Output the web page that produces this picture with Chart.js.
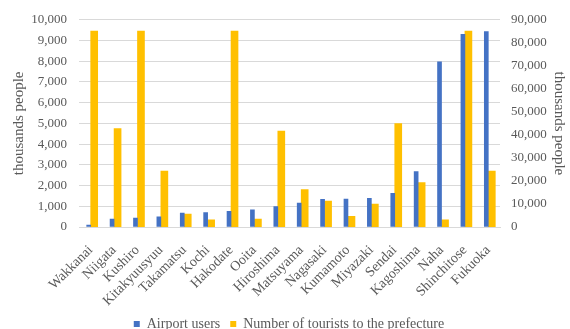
<!DOCTYPE html>
<html>
<head>
<meta charset="utf-8">
<script src="https://cdn.jsdelivr.net/npm/chart.js@4/dist/chart.umd.min.js"></script>
<style>
  html, body { margin: 0; padding: 0; background: #fff; }
  #wrap { width: 570px; height: 329px; }
</style>
</head>
<body>
<div id="wrap"><canvas id="c" width="570" height="329"></canvas></div>
<script>
const airports = ["Wakkanai", "Niigata", "Kushiro", "Kitakyuusyuu", "Takamatsu", "Kochi", "Hakodate", "Ooita",
  "Hiroshima", "Matsuyama", "Nagasaki", "Kumamoto", "Miyazaki", "Sendai", "Kagoshima", "Naha", "Shinchitose", "Fukuoka"];
const airportUsers = [90, 380, 430, 490, 670, 700, 760, 830, 980, 1150, 1330, 1350, 1380, 1630, 2670, 7970, 9300, 9430];
const tourists = [85100, 42700, 85100, 24300, 5600, 3100, 85100, 3400, 41700, 16300, 11300, 4600, 10000, 44900, 19300, 3100, 85100, 24300];
const leftTicks = [0, 10000];
const rightTicks = [0, 90000];

const serif = "'Liberation Serif', 'Times New Roman', serif";
const grey = "#595959";

new Chart(document.getElementById("c"), {
  type: "bar",
  data: {
    labels: airports,
    datasets: [
      { label: "Airport users", data: airportUsers, backgroundColor: "#4472C4", yAxisID: "y", barThickness: 4 },
      { label: "Number of tourists to the prefecture", data: tourists, backgroundColor: "#FFC000", yAxisID: "y1", barThickness: 7 }
    ]
  },
  options: {
    responsive: false,
    animation: false,
    layout: { padding: { top: 6, left: 10, right: 2, bottom: -12 } },
    plugins: {
      legend: {
        position: "bottom",
        labels: { font: { family: serif, size: 14 }, color: grey, boxWidth: 6, boxHeight: 6, padding: 10 }
      },
      tooltip: { enabled: false }
    },
    scales: {
      x: {
        grid: { display: false },
        border: { color: "#d9d9d9" },
        ticks: { font: { family: serif, size: 14 }, color: grey, maxRotation: 45, minRotation: 45, autoSkip: false, padding: 7 },
        afterFit: s => { s.height = 80; }
      },
      y: {
        position: "left",
        min: leftTicks[0], max: leftTicks[1],
        ticks: { stepSize: 1000, font: { family: serif, size: 13 }, color: grey, padding: 12,
          callback: v => v.toLocaleString("en-US") },
        grid: { color: "#d9d9d9", drawTicks: false },
        border: { display: false },
        title: { display: true, text: "thousands people", font: { family: serif, size: 15 }, color: grey, padding: 0 },
        afterFit: s => { s.width = 69; }
      },
      y1: {
        position: "right",
        min: rightTicks[0], max: rightTicks[1],
        ticks: { stepSize: 10000, font: { family: serif, size: 13 }, color: grey, padding: 11,
          callback: v => v.toLocaleString("en-US") },
        grid: { display: false, drawTicks: false },
        border: { display: false },
        title: { display: true, text: "thousands people", font: { family: serif, size: 15 }, color: grey, padding: 0 },
        afterFit: s => { s.width = 68; }
      }
    }
  }
});
</script>
</body>
</html>
